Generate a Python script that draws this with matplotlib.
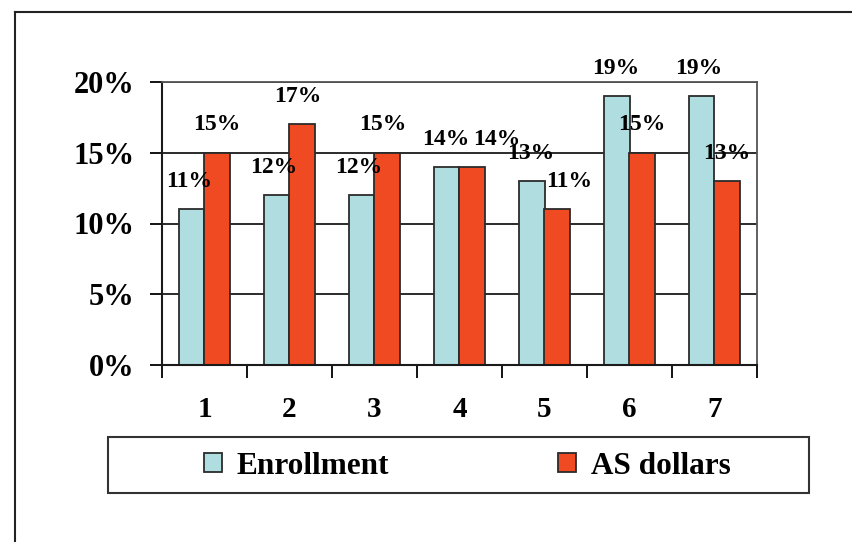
import matplotlib.pyplot as plt
from matplotlib.lines import Line2D
from matplotlib.patches import Rectangle
import numpy as np

plt.rcParams['font.family'] = ['Liberation Serif', 'DejaVu Serif']
plt.rcParams['font.weight'] = 'bold'

# share of each group, in percent
groups = ['1', '2', '3', '4', '5', '6', '7']
enrollment = [11, 12, 12, 14, 13, 19, 19]
as_dollars = [15, 17, 15, 14, 11, 15, 13]
y_ticks = [0, 5, 10, 15, 20]

# sideways nudge of the value labels (points) so neighbours don't collide
enroll_dx = [-2, -2, -2, -1, -1, -1, -2]
dollars_dx = [0, -3, -3, 18, 9, 0, 0]

blue = '#b0dde0'
red = '#f04a22'
edge = '#2b2b2b'

fig = plt.figure(figsize=(8.53, 5.42), dpi=100)
ax = fig.add_axes([162 / 853, 1 - 365 / 542, 595 / 853, 283 / 542])

x = np.arange(len(groups))
w = 0.295
ax.set_axisbelow(True)
ax.yaxis.grid(True, color='#1a1a1a', linewidth=1.3)
b1 = ax.bar(x - w / 2, enrollment, w, color=blue, edgecolor=edge, linewidth=1.3, label='Enrollment')
b2 = ax.bar(x + w / 2, as_dollars, w, color=red, edgecolor=edge, linewidth=1.3, label='AS dollars')

# value labels sit a fixed distance above each bar
for bars, vals, dxs in ((b1, enrollment, enroll_dx), (b2, as_dollars, dollars_dx)):
    for bar, v, dx in zip(bars, vals, dxs):
        ax.annotate(f'{v}%', (bar.get_x() + bar.get_width() / 2, v),
                    xytext=(dx, 20), textcoords='offset points',
                    ha='center', va='center', fontsize=17, fontweight='bold')

ax.set_xlim(-0.5, len(groups) - 0.5)
ax.set_ylim(0, 20)
ax.set_yticks(y_ticks)
ax.set_yticklabels([f'{t}%' for t in y_ticks], fontsize=22)
ax.tick_params(axis='y', length=9, width=1.3, pad=10.5)

# group names at the centres, tick marks between groups
ax.set_xticks(x)
ax.set_xticklabels(groups, fontsize=21)
ax.tick_params(axis='x', which='major', length=0, pad=22)
ax.set_xticks(np.arange(len(groups) + 1) - 0.5, minor=True)
ax.tick_params(axis='x', which='minor', length=9, width=1.3)

for side in ('left', 'bottom'):
    ax.spines[side].set_linewidth(1.5)
    ax.spines[side].set_color('#1a1a1a')
for side in ('top', 'right'):
    ax.spines[side].set_linewidth(1.3)
    ax.spines[side].set_color('#555555')

# legend box under the chart
fig.patches.append(Rectangle((108 / 853, 1 - 493 / 542), 701 / 853, 56 / 542,
                             transform=fig.transFigure, fill=False,
                             edgecolor='#333333', linewidth=1.5))
fig.legend(handles=[b1, b2], loc='center', ncol=2, frameon=False,
           bbox_to_anchor=(467 / 853, 1 - 466 / 542),
           handlelength=0.6, handleheight=0.6, handletextpad=0.45,
           columnspacing=5.4, prop={'weight': 'bold', 'size': 22.5})

# outer frame lines
fig.add_artist(Line2D([15 / 853, 15 / 853], [0, 1 - 12 / 542], transform=fig.transFigure,
                      color='#222222', linewidth=1.5))
fig.add_artist(Line2D([15 / 853, 1], [1 - 12 / 542, 1 - 12 / 542], transform=fig.transFigure,
                      color='#222222', linewidth=1.5))

fig.savefig('out.png', dpi=100)
